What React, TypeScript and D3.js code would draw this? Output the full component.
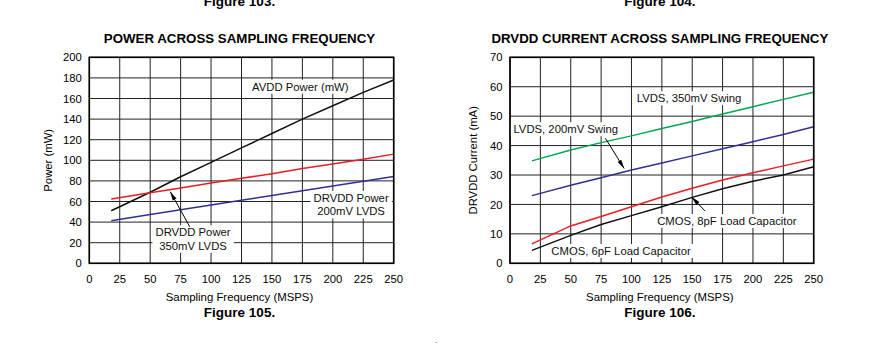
import { useLayoutEffect, useRef, useState } from 'react';
import * as d3 from 'd3';

// sampling frequency (MSPS) at which the curves were read
const freq = [18, 50, 75, 100, 125, 150, 175, 200, 225, 250];

// Figure 105: power (mW)
const avddPower = [51, 69, 84, 98, 112, 126, 140, 153, 166, 178];
const drvdd350Power = [62.5, 68.5, 73, 78, 82.5, 87, 92, 96.5, 101, 106];
const drvdd200Power = [41.4, 47.3, 51.9, 56.6, 61.2, 65.8, 70.4, 75.1, 79.7, 84.3];

// Figure 106: DRVDD current (mA)
const lvds350Current = [34.8, 38.5, 41, 43.3, 45.8, 48.2, 50.7, 53.2, 55.7, 58.1];
const lvds200Current = [23, 26.5, 29.1, 31.7, 34.1, 36.5, 38.9, 41.3, 43.8, 46.4];
const cmos8pfCurrent = [6.6, 12.7, 15.9, 19.2, 22.5, 25.5, 28.3, 30.8, 33.1, 35.4];
const cmos6pfCurrent = [4.4, 9.5, 13.2, 16.2, 19.2, 22.4, 25.3, 27.9, 30.0, 32.8];

const xTicks = [0, 25, 50, 75, 100, 125, 150, 175, 200, 225, 250];
const powerTicks = [0, 20, 40, 60, 80, 100, 120, 140, 160, 180, 200];
const currentTicks = [0, 10, 20, 30, 40, 50, 60, 70];

const FONT = 'Liberation Sans, Arial, Helvetica, sans-serif';
const TOP = 57.3;
const BOTTOM = 263.3;

function Label({ x, y, lines }) {
  const ref = useRef(null);
  const [box, setBox] = useState(null);
  useLayoutEffect(() => {
    if (ref.current) setBox(ref.current.getBBox());
  }, []);
  const lh = 13.4;
  const y0 = y - ((lines.length - 1) * lh) / 2;
  return (
    <g>
      {box && (
        <rect x={box.x - 3} y={box.y - 1} width={box.width + 6} height={box.height + 2} fill="#fff" />
      )}
      <text ref={ref} fontSize={11.3} textAnchor="middle" fill="#111">
        {lines.map((l, i) => (
          <tspan key={i} x={x} y={y0 + i * lh} dy="0.36em">{l}</tspan>
        ))}
      </text>
    </g>
  );
}

function Panel({ left, right, yTicks, series, labels, arrows, title, yLabel, yLabelX, figure, prevFigure }) {
  const x = d3.scaleLinear().domain([0, 250]).range([left, right]);
  const y = d3.scaleLinear().domain([0, yTicks[yTicks.length - 1]]).range([BOTTOM, TOP]);
  const line = d3.line().x(d => x(d[0])).y(d => y(d[1]));
  const cx = (left + right) / 2 - 2;

  return (
    <g fontFamily={FONT}>
      <text x={cx} y={5.5} fontSize={13.5} fontWeight="bold" textAnchor="middle">{prevFigure}</text>
      <text x={cx} y={43} fontSize={13.3} fontWeight="bold" textAnchor="middle">{title}</text>

      {xTicks.map(t => (
        <line key={'vx' + t} x1={x(t)} x2={x(t)} y1={TOP} y2={BOTTOM} stroke="#222" strokeWidth={1} />
      ))}
      {yTicks.map(t => (
        <line key={'hy' + t} x1={left} x2={right} y1={y(t)} y2={y(t)} stroke="#222" strokeWidth={1} />
      ))}

      {labels.map((l, i) => (
        <Label key={i} x={x(l.at[0])} y={y(l.at[1])} lines={l.lines} />
      ))}

      {series.map((s, i) => (
        <path key={i} d={line(freq.map((f, j) => [f, s.values[j]]))} fill="none" stroke={s.color} strokeWidth={1.5} />
      ))}

      {arrows.map((a, i) => (
        <line key={i} x1={x(a.from[0])} y1={y(a.from[1])} x2={x(a.to[0])} y2={y(a.to[1])}
          stroke="#000" strokeWidth={1} markerEnd="url(#arrowhead)" />
      ))}

      <rect x={left} y={TOP} width={right - left} height={BOTTOM - TOP} fill="none" stroke="#000" strokeWidth={1.6} />

      {yTicks.map(t => (
        <text key={'ty' + t} x={left - 7.5} y={y(t)} dy="0.36em" fontSize={11.3} textAnchor="end">{t}</text>
      ))}
      {xTicks.map(t => (
        <text key={'tx' + t} x={x(t)} y={283} fontSize={11.3} textAnchor="middle">{t}</text>
      ))}
      <text x={cx} y={301} fontSize={11.4} textAnchor="middle">Sampling Frequency (MSPS)</text>
      <text x={cx} y={316.5} fontSize={13.5} fontWeight="bold" textAnchor="middle">{figure}</text>
      <text transform={`translate(${yLabelX},${(TOP + BOTTOM) / 2}) rotate(-90)`} dy="0.36em" fontSize={11.3} textAnchor="middle">{yLabel}</text>
    </g>
  );
}

export default function App() {
  return (
    <svg width={885} height={353} style={{ position: 'absolute', left: 0, top: 0, background: '#fff' }}>
      <defs>
        <marker id="arrowhead" viewBox="0 0 10 10" refX={10} refY={5} markerWidth={9} markerHeight={9} orient="auto" markerUnits="userSpaceOnUse">
          <path d="M0,2.6 L10,5 L0,7.4 z" fill="#000" />
        </marker>
      </defs>
      <Panel
        left={89.3}
        right={393.7}
        yTicks={powerTicks}
        title="POWER ACROSS SAMPLING FREQUENCY"
        yLabel="Power (mW)"
        yLabelX={48}
        figure="Figure 105."
        prevFigure="Figure 103."
        series={[
          { values: avddPower, color: '#111' },
          { values: drvdd350Power, color: '#ec1c24' },
          { values: drvdd200Power, color: '#2e3192' },
        ]}
        labels={[
          { at: [173.3, 171.5], lines: ['AVDD Power (mW)'] },
          { at: [215, 57], lines: ['DRVDD Power', '200mV LVDS'] },
          { at: [85.2, 23.6], lines: ['DRVDD Power', '350mV LVDS'] },
        ]}
        arrows={[{ from: [82.5, 35.5], to: [66.5, 69.5] }]}
      />
      <Panel
        left={510}
        right={813.7}
        yTicks={currentTicks}
        title="DRVDD CURRENT ACROSS SAMPLING FREQUENCY"
        yLabel="DRVDD Current (mA)"
        yLabelX={472.7}
        figure="Figure 106."
        prevFigure="Figure 104."
        series={[
          { values: lvds350Current, color: '#00a651' },
          { values: lvds200Current, color: '#2e3192' },
          { values: cmos8pfCurrent, color: '#ec1c24' },
          { values: cmos6pfCurrent, color: '#111' },
        ]}
        labels={[
          { at: [147.4, 56.1], lines: ['LVDS, 350mV Swing'] },
          { at: [45.9, 45.6], lines: ['LVDS, 200mV Swing'] },
          { at: [178.5, 14.4], lines: ['CMOS, 8pF Load Capacitor'] },
          { at: [91.4, 4.2], lines: ['CMOS, 6pF Load Capacitor'] },
        ]}
        arrows={[
          { from: [78.5, 42.5], to: [94, 32.2] },
          { from: [160.5, 17.8], to: [149.5, 22.5] },
        ]}
      />
      <text x={435} y={343} fontSize={8} fontFamily={FONT}>.</text>
    </svg>
  );
}
